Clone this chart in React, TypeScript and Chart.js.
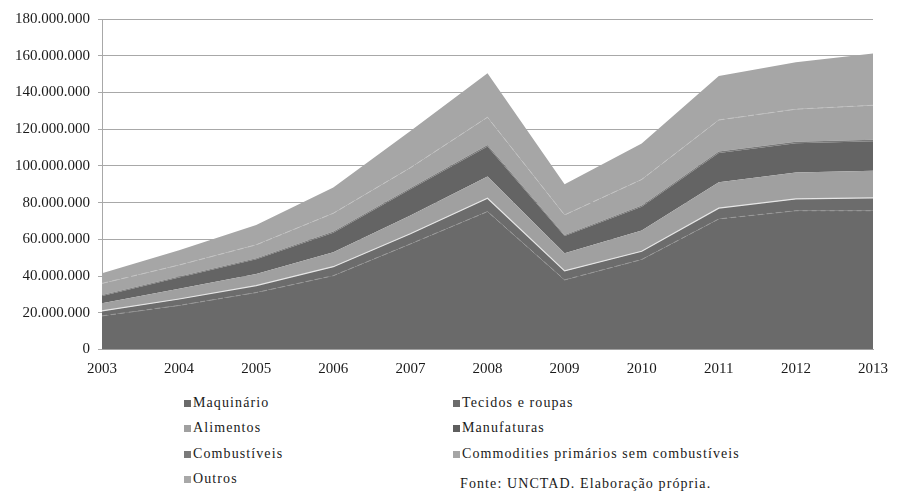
import React, { useEffect, useRef } from "react";
import { Chart, registerables } from "chart.js";

Chart.register(...registerables);

const years = ["2003", "2004", "2005", "2006", "2007", "2008", "2009", "2010", "2011", "2012", "2013"];

const maquinario = [18300000, 24000000, 31000000, 40200000, 57500000, 75100000, 37900000, 49000000, 71100000, 75600000, 75600000];
const tecidos = [2700000, 3500000, 3800000, 4900000, 5500000, 7300000, 4900000, 4500000, 5900000, 6400000, 7000000];
const alimentos = [4200000, 5600000, 6300000, 7900000, 10000000, 11800000, 9600000, 11300000, 14100000, 14400000, 14800000];
const manufaturas = [4000000, 6100000, 8000000, 10600000, 14300000, 16400000, 9400000, 12900000, 15900000, 15900000, 16000000];
const combustiveis = [500000, 500000, 600000, 600000, 700000, 800000, 600000, 700000, 800000, 800000, 800000];
const commodities = [6300000, 6300000, 7300000, 10000000, 11000000, 15100000, 10900000, 14200000, 17200000, 17800000, 18800000];
const outros = [5500000, 8000000, 10800000, 14000000, 20000000, 24000000, 16700000, 19600000, 24000000, 25600000, 28200000];

const yTicksMax = 180000000;
const yStep = 20000000;

const legendCol1 = [
  { label: "Maquinário", color: "#6a6a6a" },
  { label: "Alimentos", color: "#a0a0a0" },
  { label: "Combustíveis", color: "#7a7a7a" },
  { label: "Outros", color: "#a8a8a8" },
];
const legendCol2 = [
  { label: "Tecidos e roupas", color: "#6c6c6c" },
  { label: "Manufaturas", color: "#5e5e5e" },
  { label: "Commodities primários sem combustíveis", color: "#a5a5a5" },
];
const sourceText = "Fonte: UNCTAD.  Elaboração própria.";

const fmt = (v: number) => Math.round(v).toString().replace(/\B(?=(\d{3})+(?!\d))/g, ".");

const FONT = "Liberation Serif, Times New Roman, Times, DejaVu Serif, serif";

export default function App() {
  const ref = useRef<HTMLCanvasElement | null>(null);

  useEffect(() => {
    if (!ref.current) return;
    const mk = (label: string, data: number[], color: string, fill: any, border: string, width: number, dash: number[]) => ({
      label,
      data,
      backgroundColor: color,
      borderColor: border,
      borderWidth: width,
      borderDash: dash,
      fill,
      pointRadius: 0,
      tension: 0,
    });
    const chart = new Chart(ref.current, {
      type: "line",
      data: {
        labels: years,
        datasets: [
          mk("Maquinário", maquinario, "#6a6a6a", "origin", "#9a9a9a", 1, [5, 4]),
          mk("Tecidos e roupas", tecidos, "#6c6c6c", "-1", "#e6e6e6", 1.2, []),
          mk("Alimentos", alimentos, "#a0a0a0", "-1", "rgba(0,0,0,0)", 0, []),
          mk("Manufaturas", manufaturas, "#646464", "-1", "rgba(0,0,0,0)", 0, []),
          mk("Combustíveis", combustiveis, "#7a7a7a", "-1", "rgba(0,0,0,0)", 0, []),
          mk("Commodities primários sem combustíveis", commodities, "#a4a4a4", "-1", "#c4c4c4", 1, [6, 4]),
          mk("Outros", outros, "#a6a6a6", "-1", "rgba(0,0,0,0)", 0, []),
        ],
      },
      options: {
        responsive: false,
        animation: false,
        layout: { padding: { top: 19, right: 16, left: 0, bottom: 0 } },
        plugins: { legend: { display: false }, tooltip: { enabled: false } },
        scales: {
          x: {
            offset: false,
            grid: { drawOnChartArea: false, drawTicks: false },
            border: { display: true, color: "#a8a8a8" },
            ticks: { padding: 11, color: "#1a1a1a", font: { family: FONT, size: 15 }, maxRotation: 0 },
            afterFit: (s: any) => { s.height = 35.5; },
          },
          y: {
            stacked: true,
            min: 0,
            max: yTicksMax,
            ticks: { stepSize: yStep, padding: 8, color: "#1a1a1a", font: { family: FONT, size: 15 }, callback: (v: any) => fmt(Number(v)) },
            grid: { color: "#a8a8a8", tickLength: 4, lineWidth: 1 },
            border: { display: true, color: "#a8a8a8" },
            afterFit: (s: any) => { s.width = 102; },
          },
        },
      },
    });
    return () => chart.destroy();
  }, []);

  const itemStyle = (top: number, left: number): React.CSSProperties => ({
    position: "absolute",
    top,
    left,
    display: "flex",
    alignItems: "center",
    fontFamily: FONT,
    fontSize: 14,
    letterSpacing: "1.1px",
    color: "#1a1a1a",
    whiteSpace: "nowrap",
    lineHeight: "16px",
  });
  const sw = (c: string): React.CSSProperties => ({ width: 7, height: 7, background: c, marginRight: 2, display: "inline-block" });
  const rows = [403, 428, 454, 479];

  return (
    <div style={{ position: "fixed", left: 0, top: 0, width: 899, height: 494, background: "#fff", overflow: "hidden" }}>
      <canvas ref={ref} width={899} height={385} style={{ position: "absolute", left: 0, top: 0, width: 899, height: 385 }} />
      {legendCol1.map((it, i) => (
        <div key={it.label} style={itemStyle(rows[i] - 8, 184)}>
          <span style={sw(it.color)} />
          {it.label}
        </div>
      ))}
      {legendCol2.map((it, i) => (
        <div key={it.label} style={itemStyle(rows[i] - 8, 453)}>
          <span style={sw(it.color)} />
          {it.label}
        </div>
      ))}
      <div style={itemStyle(476, 460)}>{sourceText}</div>
    </div>
  );
}
